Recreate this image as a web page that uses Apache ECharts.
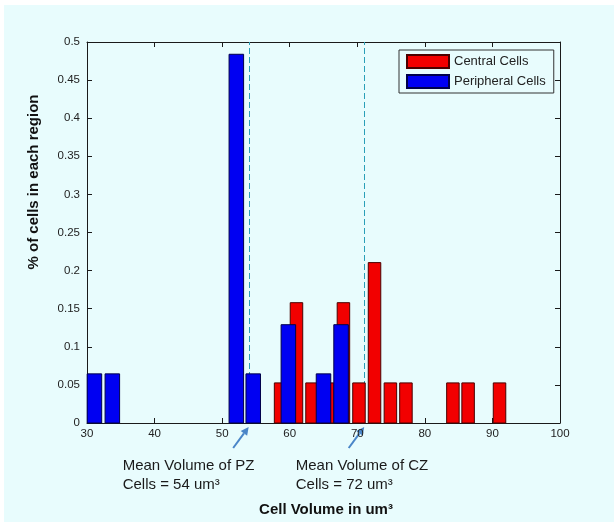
<!DOCTYPE html>
<html>
<head>
<meta charset="utf-8">
<script src="https://cdn.jsdelivr.net/npm/echarts@6/dist/echarts.min.js"></script>
<style>
  html, body { margin: 0; padding: 0; background: #ffffff; }
  #bg { position: absolute; left: 4px; top: 5px; width: 610px; height: 517px; background: #e8fcfd; }
  #chart { position: absolute; left: 0; top: 0; width: 614px; height: 522px; }
</style>
</head>
<body>
<div id="bg"></div>
<div id="chart"></div>
<script>
// ---- data ----
const centralCenters = [58.65, 61.0, 63.3, 65.6, 67.95, 70.25, 72.55, 74.9, 77.2, 84.15, 86.4, 91.05];
const centralValues  = [0.0526, 0.1579, 0.0526, 0.0526, 0.1579, 0.0526, 0.2105, 0.0526, 0.0526, 0.0526, 0.0526, 0.0526];
const peripheralCenters = [31.1, 33.75, 52.1, 54.6, 59.8, 65.0, 67.6];
const peripheralValues  = [0.0645, 0.0645, 0.4839, 0.0645, 0.129, 0.0645, 0.129];
const seriesNames = ['Central Cells', 'Peripheral Cells'];
const meanPZ = 54;
const meanCZ = 71.1;
const annotationPZ = ['Mean Volume of PZ', 'Cells = 54 um\u00B3'];
const annotationCZ = ['Mean Volume of CZ', 'Cells = 72 um\u00B3'];
const xTitle = 'Cell Volume in um\u00B3';
const yTitle = '% of cells in each region';

// ---- styling constants ----
const FONT = "'Liberation Sans', Arial, sans-serif";
const RED_W = 1.85, BLUE_W = 2.15;
const RED = '#f20000', RED_EDGE = '#4a0000';
const BLUE = '#0000f2', BLUE_EDGE = '#00004a';
const AXIS = '#1a1a1a';
const ARROW = '#4a86c8';

function zip(a, b) { return a.map((v, i) => [v, b[i]]); }

function barRenderer(width, fill, stroke) {
  return function (params, api) {
    const x = api.value(0), y = api.value(1);
    const p0 = api.coord([x - width / 2, y]);
    const p1 = api.coord([x + width / 2, 0]);
    return {
      type: 'rect',
      shape: { x: p0[0], y: p0[1], width: p1[0] - p0[0], height: p1[1] - p0[1] },
      style: { fill: fill, stroke: stroke, lineWidth: 1 }
    };
  };
}

const chart = echarts.init(document.getElementById('chart'), null, { renderer: 'canvas' });

const axisCommon = {
  axisLine: { show: true, onZero: false, lineStyle: { color: AXIS, width: 1 } },
  axisTick: { show: true, inside: true, length: 5, lineStyle: { color: AXIS } },
  splitLine: { show: false }
};

const option = {
  backgroundColor: 'transparent',
  animation: false,
  grid: { left: 87, right: 54, top: 42, bottom: 99 },
  xAxis: [
    Object.assign({ type: 'value', min: 30, max: 100, interval: 10, position: 'bottom',
      axisLabel: { fontFamily: FONT, fontSize: 11.5, color: '#222', margin: 5 } }, axisCommon),
    Object.assign({ type: 'value', min: 30, max: 100, interval: 10, position: 'top',
      axisLabel: { show: false } }, axisCommon)
  ],
  yAxis: [
    Object.assign({ type: 'value', min: 0, max: 0.5, interval: 0.05, position: 'left',
      axisLabel: { fontFamily: FONT, fontSize: 11.5, color: '#222', margin: 7 } }, axisCommon),
    Object.assign({ type: 'value', min: 0, max: 0.5, interval: 0.05, position: 'right',
      axisLabel: { show: false } }, axisCommon)
  ],
  legend: {
    orient: 'vertical',
    left: 399, top: 50,
    data: seriesNames,
    itemWidth: 42, itemHeight: 13, itemGap: 5,
    padding: [4, 8, 4, 7],
    borderColor: '#333', borderWidth: 1,
    backgroundColor: 'transparent',
    textStyle: { fontFamily: FONT, fontSize: 13, color: '#222' },
    icon: 'rect'
  },
  series: [
    {
      name: seriesNames[0], type: 'custom', xAxisIndex: 0, yAxisIndex: 0,
      renderItem: barRenderer(RED_W, RED, RED_EDGE),
      itemStyle: { color: RED, borderColor: RED_EDGE, borderWidth: 1 },
      encode: { x: 0, y: 1 },
      data: zip(centralCenters, centralValues),
      z: 2
    },
    {
      name: seriesNames[1], type: 'custom', xAxisIndex: 0, yAxisIndex: 0,
      renderItem: barRenderer(BLUE_W, BLUE, BLUE_EDGE),
      itemStyle: { color: BLUE, borderColor: BLUE_EDGE, borderWidth: 1 },
      encode: { x: 0, y: 1 },
      data: zip(peripheralCenters, peripheralValues),
      z: 3,
      markLine: {
        silent: true, symbol: 'none', label: { show: false },
        lineStyle: { color: '#2a9fb8', type: [6, 3], width: 1 },
        data: [{ xAxis: meanPZ }, { xAxis: meanCZ }],
        z: 1
      }
    }
  ]
};
chart.setOption(option);

// annotations positioned from data coordinates
function arrowGroup(xVal) {
  const tip = chart.convertToPixel({ gridIndex: 0 }, [xVal, 0]);
  const tx = tip[0] - 0.5, ty = tip[1] + 4;
  const bx = tx - 15.5, by = ty + 21;
  const ang = Math.atan2(ty - by, tx - bx);
  const hl = 8, hw = 4;
  const baseX = tx - hl * Math.cos(ang), baseY = ty - hl * Math.sin(ang);
  const px = -Math.sin(ang) * hw, py = Math.cos(ang) * hw;
  return [
    { type: 'line', shape: { x1: bx, y1: by, x2: baseX, y2: baseY }, style: { stroke: ARROW, lineWidth: 2 } },
    { type: 'polygon', shape: { points: [[tx, ty], [baseX + px, baseY + py], [baseX - px, baseY - py]] }, style: { fill: ARROW } }
  ];
}

function noteText(xVal, lines, dx) {
  const p = chart.convertToPixel({ gridIndex: 0 }, [xVal, 0]);
  return {
    type: 'text', left: p[0] + dx, top: p[1] + 34,
    style: { text: lines.join('\n'), fontFamily: FONT, fontSize: 15, fill: '#1a1a1a', lineHeight: 18.5 }
  };
}

const g = [];
g.push(...arrowGroup(meanPZ));
g.push(...arrowGroup(meanCZ));
g.push(noteText(meanPZ, annotationPZ, -126.5));
g.push(noteText(meanCZ, annotationCZ, -69));
g.push({
  type: 'text', x: 326, y: 510,
  style: { text: xTitle, fontFamily: FONT, fontSize: 15, fontWeight: 'bold', fill: '#111',
           align: 'center', verticalAlign: 'middle' }
});
g.push({
  type: 'text', x: 34, y: 182, rotation: Math.PI / 2,
  style: { text: yTitle, fontFamily: FONT, fontSize: 15, fontWeight: 'bold', fill: '#111',
           align: 'center', verticalAlign: 'middle' }
});
chart.setOption({ graphic: g });
</script>
</body>
</html>
